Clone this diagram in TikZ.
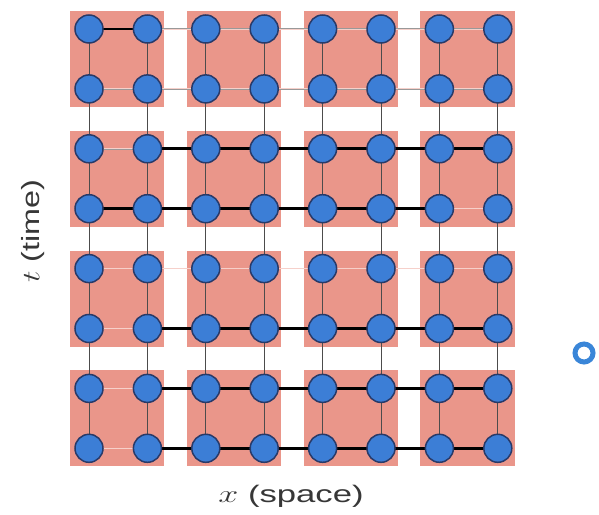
\documentclass[tikz,border=0pt]{standalone}
\usepackage{fontspec}
\usepackage{graphicx}
\setmainfont{Liberation Sans}
\pgfdeclarelayer{bg}
\pgfdeclarelayer{bgpink}
\pgfsetlayers{bgpink,bg,main}
\definecolor{pinkc}{RGB}{234,150,138}
\definecolor{bluec}{RGB}{60,126,214}
\definecolor{navyc}{RGB}{40,58,105}
\definecolor{ringc}{RGB}{58,134,216}
\definecolor{txtc}{RGB}{55,55,55}
\tikzset{
  site/.style={circle, minimum size=28bp, inner sep=0pt, fill=bluec, draw=navyc, line width=1.5bp},
  vedge/.style={draw=black!70, line width=0.9bp},
  hedge/.style={draw=black!40, line width=0.4bp, double=white!55!pinkc, double distance=0.8bp},
  thick edge/.style={draw=black, line width=2.6bp},
  block/.style={fill=pinkc, draw=none},
  lab/.style={text=txtc, inner sep=0pt}
}
\begin{document}
\begin{tikzpicture}[x=1bp, y=-1bp]
\useasboundingbox (0,0) rectangle (599,515);
% sites
\foreach \i in {0,...,7}{
  \foreach \j in {0,...,7}{
    \node[site] (n-\i-\j) at ({89+58.4*\i},{29+59.9*\j}) {};
  }
}
% pink blocks
\begin{pgfonlayer}{bgpink}
\foreach \bi in {0,...,3}{
  \foreach \bj in {0,...,3}{
    \pgfmathtruncatemacro{\ia}{2*\bi}
    \pgfmathtruncatemacro{\ib}{2*\bi+1}
    \pgfmathtruncatemacro{\ja}{2*\bj}
    \pgfmathtruncatemacro{\jb}{2*\bj+1}
    \fill[block] ([xshift=-19bp,yshift=18bp]n-\ia-\ja.center) rectangle ([xshift=17bp,yshift=-18bp]n-\ib-\jb.center);
  }
}
\end{pgfonlayer}
% edges
\begin{pgfonlayer}{bg}
\foreach \i in {0,...,7}{
  \foreach \j in {0,...,6}{
    \pgfmathtruncatemacro{\jn}{\j+1}
    \draw[vedge] (n-\i-\j.center) -- (n-\i-\jn.center);
  }
}
\foreach \i in {0,...,6}{
  \foreach \j in {0,...,7}{
    \pgfmathtruncatemacro{\in}{\i+1}
    \draw[hedge] (n-\i-\j.center) -- (n-\in-\j.center);
  }
}
% thick bonds
\draw[thick edge] (n-0-0.center) -- (n-1-0.center);
\draw[thick edge] (n-1-2.center) -- (n-7-2.center);
\draw[thick edge] (n-0-3.center) -- (n-6-3.center);
\draw[thick edge] (n-1-5.center) -- (n-7-5.center);
\draw[thick edge] (n-1-6.center) -- (n-7-6.center);
\draw[thick edge] (n-1-7.center) -- (n-7-7.center);
\end{pgfonlayer}
% labels
\node[lab] (xlab) at (291,496) {\fontsize{24}{28}\selectfont\scalebox{1.45}[1]{$x$ (space)}};
\node[lab, rotate=90] (tlab) at (33,231) {\fontsize{25}{28}\selectfont\scalebox{1.3}[1]{$t$ (time)}};
\node[circle, draw=ringc, line width=5bp, minimum size=18bp, inner sep=0pt] (ring) at (584,353) {};
\end{tikzpicture}
\end{document}
